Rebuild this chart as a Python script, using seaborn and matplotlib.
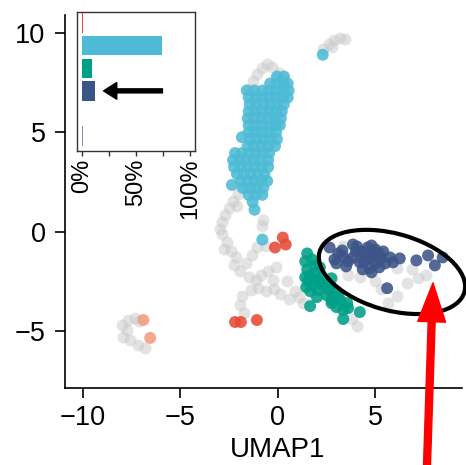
import matplotlib
matplotlib.use("Agg")
import matplotlib.pyplot as plt
from matplotlib.patches import Ellipse
import seaborn as sns
import pandas as pd

# ---------------- data ----------------
grey_pts = [
    (2.3, 9.2), (2.6, 9.45), (2.9, 9.65), (3.2, 9.75), (3.45, 9.7), (2.75, 9.3),
    (-1.5, 7.2), (-1.3, 7.6), (-1.05, 7.95), (-0.8, 8.25), (-0.55, 8.45), (-0.3, 8.3),
    (0.05, 8.0), (0.3, 7.85),
    (-1.8, 2.2), (-2.05, 1.9), (-2.3, 1.55), (-2.5, 1.2), (-2.7, 0.85), (-2.85, 0.5),
    (-2.95, 0.15), (-2.1, 1.3), (-0.75, 0.6), (-0.8, 0.3),
    (-2.85, -0.1), (-2.6, -0.5), (-2.75, -0.9), (-2.4, -1.0), (-2.15, -1.3), (-2.25, -1.7),
    (-1.95, -2.0), (-1.65, -1.6), (-1.35, -1.2), (-1.05, -0.8), (-0.6, -0.75), (-1.5, -2.3),
    (-1.15, -2.45), (-0.85, -2.2), (-0.5, -2.0), (-0.25, -2.45), (-1.0, -2.85), (-0.6, -3.0),
    (-0.2, -2.9), (0.1, -3.15), (-1.4, -2.95), (-1.85, -3.25), (-1.95, -3.7), (-1.75, -4.1),
    (0.85, -3.0), (1.1, -3.3), (0.45, -2.5), (-0.1, -1.8), (0.55, -3.4), (1.3, -3.6),
    (3.35, -0.7), (5.65, -3.6), (6.1, -3.25), (6.6, -2.6), (7.2, -2.35), (7.6, -2.2),
    (6.9, -1.9), (6.1, -1.85), (5.0, -2.5), (5.3, -2.9), (3.8, -4.4), (4.05, -4.75),
    (3.6, -2.2), (4.2, -2.3),
    (-8.0, -4.7), (-7.7, -4.45), (-7.35, -4.35), (-7.95, -5.3), (-7.6, -5.45), (-7.2, -5.7),
    (-6.8, -5.85), (-7.75, -4.95), (-7.1, -4.5),
]

cyan_pts = [
    (-0.05, 7.8), (0.3, 7.8),
    (-0.4, 7.45), (-0.05, 7.45), (0.3, 7.45), (0.5, 7.45),
    (-1.6, 7.1), (-1.2, 7.1), (-0.8, 7.1), (-0.45, 7.1), (-0.1, 7.1), (0.25, 7.1), (0.55, 7.1),
    (-1.5, 6.75), (-1.15, 6.75), (-0.8, 6.75), (-0.45, 6.75), (-0.1, 6.75), (0.25, 6.75), (0.5, 6.75),
    (-1.45, 6.4), (-1.1, 6.4), (-0.75, 6.4), (-0.4, 6.4), (-0.05, 6.4), (0.3, 6.4),
    (-1.5, 6.05), (-1.15, 6.05), (-0.8, 6.05), (-0.45, 6.05), (-0.1, 6.05), (0.2, 6.05),
    (-1.55, 5.7), (-1.2, 5.7), (-0.85, 5.7), (-0.5, 5.7), (-0.15, 5.7), (0.15, 5.7),
    (-1.5, 5.35), (-1.15, 5.35), (-0.8, 5.35), (-0.45, 5.35), (-0.1, 5.35), (0.1, 5.35),
    (-1.5, 5.0), (-1.15, 5.0), (-0.8, 5.0), (-0.45, 5.0), (-0.1, 5.0),
    (-1.45, 4.65), (-1.1, 4.65), (-0.75, 4.65), (-0.4, 4.65), (-0.05, 4.65),
    (-1.55, 4.3), (-1.2, 4.3), (-0.85, 4.3), (-0.5, 4.3), (-0.15, 4.3),
    (-2.2, 3.95), (-1.85, 3.95), (-1.5, 3.95), (-1.15, 3.95), (-0.8, 3.95), (-0.45, 3.95),
    (-2.3, 3.6), (-1.95, 3.6), (-1.6, 3.6), (-1.25, 3.6), (-0.9, 3.6), (-0.5, 3.6),
    (-2.25, 3.25), (-1.9, 3.25), (-1.55, 3.25), (-1.2, 3.25), (-0.85, 3.25), (-0.5, 3.25),
    (-2.1, 2.9), (-1.75, 2.9), (-1.4, 2.9), (-1.05, 2.9), (-0.7, 2.9),
    (-1.9, 2.55), (-1.55, 2.55), (-1.2, 2.55), (-0.85, 2.55), (-0.55, 2.55),
    (-1.8, 2.2), (-1.45, 2.2), (-1.1, 2.2), (-0.75, 2.2),
    (-1.5, 1.85), (-1.15, 1.85), (-0.8, 1.85),
    (-2.36, 2.35), (-1.85, 4.75), (-1.3, 1.5), (-1.2, 1.1), (2.3, 8.9), (-0.8, -0.4),
]

green_pts = [
    (1.5, -1.1), (1.4, -1.5), (1.75, -1.4), (1.5, -1.9), (1.9, -2.1), (2.25, -2.35),
    (1.55, -2.5), (1.8, -2.7), (2.3, -2.7), (2.55, -2.85), (1.65, -3.0), (2.05, -2.95),
    (1.65, -3.75), (3.0, -3.0), (2.75, -3.45), (3.2, -3.45), (3.55, -3.6), (3.0, -3.8),
    (3.35, -3.95), (3.6, -3.85), (3.35, -4.4), (4.2, -4.05), (2.75, -3.6), (2.15, -1.8),
    (1.9, -1.7), (1.65, -2.2), (2.5, -3.2), (2.0, -3.3), (1.4, -2.3), (2.1, -2.5),
    (2.75, -2.35), (2.65, -2.95), (3.1, -3.25), (1.45, -2.8), (1.9, -2.4),
]

navy_pts = [
    (2.65, -0.8), (2.9, -1.4), (3.35, -1.25), (3.85, -0.65), (3.85, -1.3), (3.5, -1.75),
    (4.3, -1.0), (4.6, -0.8), (5.0, -0.9), (5.4, -1.0), (4.7, -1.35), (5.25, -1.4),
    (4.8, -2.05), (4.35, -1.9), (5.75, -1.3), (6.25, -1.35), (5.6, -2.85), (7.1, -1.45),
    (7.7, -1.2), (8.05, -1.7), (8.45, -1.3), (4.5, -1.2), (4.9, -1.15), (5.2, -1.1),
    (4.4, -1.5), (5.0, -1.6), (4.0, -1.0), (4.2, -1.55), (5.5, -1.6), (3.1, -1.1),
    (3.6, -1.5), (5.2, -1.8), (4.7, -1.85), (4.05, -0.75), (4.8, -0.7), (3.3, -0.95),
    (5.9, -1.55), (3.0, -1.6),
]

red_pts = [(0.25, -0.3), (-0.15, -0.8), (0.4, -0.65), (-2.2, -4.55), (-1.9, -4.55), (-1.08, -4.45)]
salmon_pts = [(-6.9, -4.45), (-6.55, -5.35)]

clusters = ["C1", "C2", "C3", "C4", "C5", "C6"]
cluster_colors = ["#E64B35", "#4DBBD5", "#00A087", "#3C5488", "#F39B7F", "#8491B4"]
cluster_pct = [0.8, 74.5, 9.0, 12.5, 0.4, 0.7]

x_ticks = [-10, -5, 0, 5]
y_ticks = [-5, 0, 5, 10]
pct_ticks = [0, 25, 50, 75, 100]
pct_labels = ["0%", "", "50%", "", "100%"]

# ---------------- plotting ----------------
sns.set_theme(style="ticks")
plt.rcParams["font.family"] = ["Liberation Sans", "DejaVu Sans"]

fig = plt.figure(figsize=(4.66, 4.65), dpi=100)
ax = fig.add_axes([0.1395, 0.1656, 0.8519, 0.8022])


def frame(pts, label):
    return pd.DataFrame(pts, columns=["UMAP1", "UMAP2"]).assign(cluster=label)


grey_df = frame(grey_pts, "other")
sns.scatterplot(data=grey_df, x="UMAP1", y="UMAP2", color="#C8C8C8", alpha=0.5,
                s=74, linewidth=0, ax=ax, legend=False)

col_df = pd.concat([
    frame(cyan_pts, "C2"), frame(green_pts, "C3"), frame(navy_pts, "C4"),
    frame(red_pts, "C1"), frame(salmon_pts, "C5"),
], ignore_index=True)
palette = dict(zip(clusters, cluster_colors))
sns.scatterplot(data=col_df, x="UMAP1", y="UMAP2", hue="cluster", palette=palette,
                alpha=0.88, s=74, linewidth=0, ax=ax, legend=False)

ax.set_xlim(-10.92, 9.44)
ax.set_ylim(-7.87, 10.9)
ax.set_xticks(x_ticks)
ax.set_yticks(y_ticks)
ax.set_xlabel("UMAP1", fontsize=20, color="black")
ax.set_ylabel("")
ax.xaxis.set_label_coords(0.5365, -0.131)
ax.tick_params(axis="both", labelsize=19.5, length=7, width=1.2, color="black", labelcolor="black")
ax.tick_params(axis="x", pad=5)
ax.tick_params(axis="y", pad=7)
sns.despine(ax=ax)
for s in ["left", "bottom"]:
    ax.spines[s].set_linewidth(1.2)
    ax.spines[s].set_color("black")

ax.add_patch(Ellipse((5.85, -2.03), 7.7, 3.87, angle=-15, fill=False, lw=3,
                     ec="black", clip_on=False, zorder=5))

ax.annotate("", xy=(7.95, -2.58), xycoords="data", xytext=(0.916, -0.01),
            textcoords="figure fraction",
            arrowprops=dict(arrowstyle="simple,head_length=1.4,head_width=1.0,tail_width=0.25",
                            color="red", mutation_scale=20, shrinkA=0, shrinkB=0),
            annotation_clip=False, zorder=6)

# ---------------- inset ----------------
axin = fig.add_axes([0.1652, 0.6753, 0.2532, 0.2989])
bar_df = pd.DataFrame({"cluster": clusters, "pct": cluster_pct})
sns.barplot(data=bar_df, x="pct", y="cluster", hue="cluster", palette=palette,
            order=clusters, orient="h", width=0.86, ax=axin, legend=False,
            saturation=1, linewidth=0)
axin.set_xlim(-4.6, 104.6)
axin.set_ylim(5.66, -0.49)
axin.set_xticks(pct_ticks)
axin.set_xticklabels(pct_labels, rotation=90)
axin.set_yticks([])
axin.set_xlabel("")
axin.set_ylabel("")
axin.tick_params(axis="x", labelsize=17, length=3.5, width=1, pad=2, color="#333333",
                 labelcolor="black")
for sp in axin.spines.values():
    sp.set_visible(True)
    sp.set_linewidth(1.0)
    sp.set_color("#333333")
axin.set_facecolor("white")

axin.annotate("", xy=(20, 3), xytext=(74.5, 3),
              arrowprops=dict(arrowstyle="simple,head_length=0.95,head_width=1.2,tail_width=0.29",
                              color="black", mutation_scale=10, shrinkA=0, shrinkB=0))

fig.savefig("out.png", dpi=100)
